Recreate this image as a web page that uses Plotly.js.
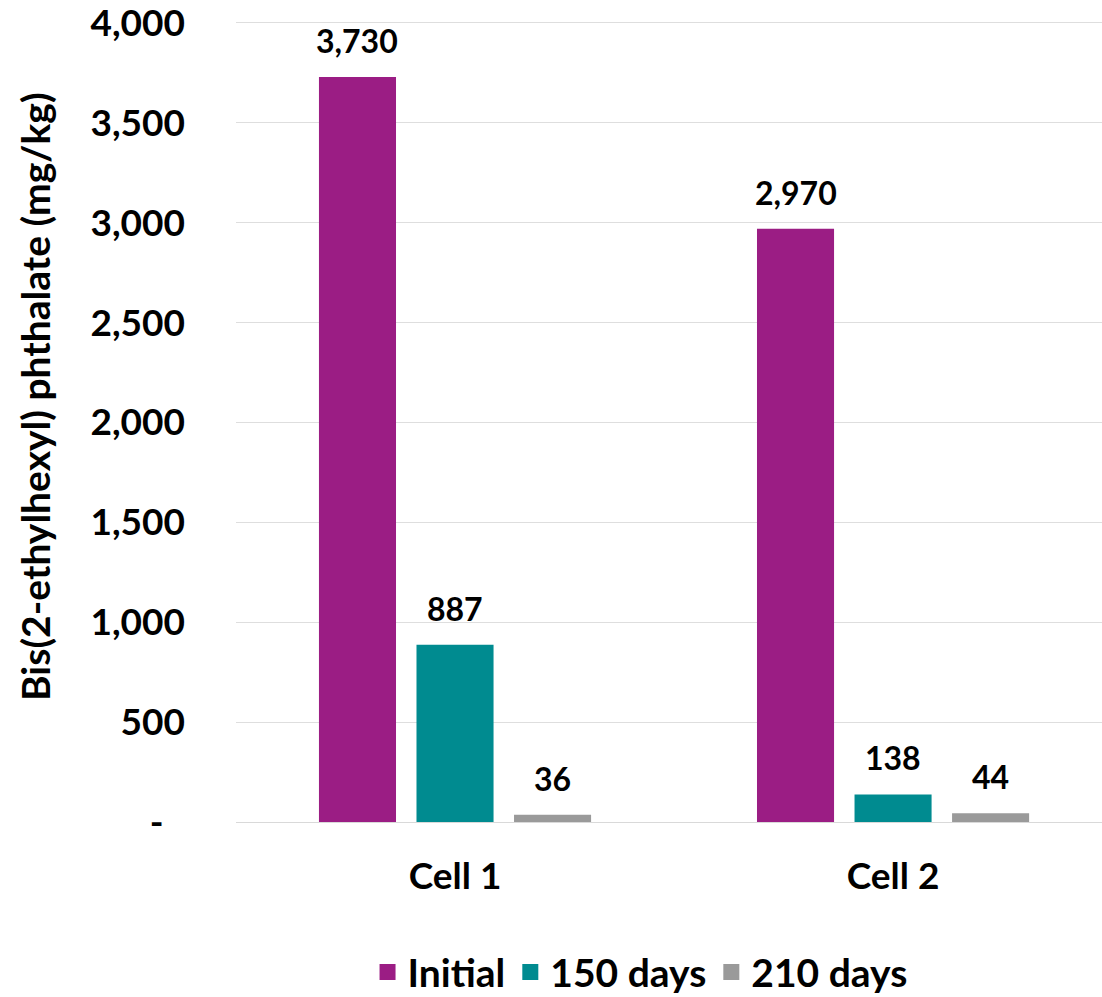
<!DOCTYPE html>
<html>
<head>
<meta charset="utf-8">
<script src="https://cdn.plot.ly/plotly-3.0.1.min.js"></script>
<style>
  html, body { margin: 0; padding: 0; background: #ffffff; overflow: hidden; }
  #chart { width: 1102px; height: 997px; }
</style>
</head>
<body>
<div id="chart"></div>
<script>
// Bis(2-ethylhexyl) phthalate concentration per cell over time
const cells = ["Cell 1", "Cell 2"];
const initial = [3730, 2970];
const days150 = [887, 138];
const days210 = [36, 44];

const seriesNames = ["Initial", "150 days", "210 days"];
const seriesColors = ["#9b1d84", "#008b90", "#9a9a9a"];

const yTickVals = [0, 500, 1000, 1500, 2000, 2500, 3000, 3500, 4000];
const yTickText = ["-\u2007", "500", "1,000", "1,500", "2,000", "2,500", "3,000", "3,500", "4,000"];
const yMax = 4000;

const yTitle = "Bis(2-ethylhexyl) phthalate (mg/kg)";

const fontFamily = "Lato, 'Open Sans', sans-serif";
const fmt = v => v.toLocaleString("en-US");

const seriesValues = [initial, days150, days210];
const BARGAP = 0.332;
const slot = (1 - BARGAP) / seriesValues.length;

// Plot area: zero at 822px, yMax at 23px; headroom above yMax keeps the top gridline inside
const zeroPx = 822, topTickPx = 23, headroom = 100;
const pxPerUnit = (zeroPx - topTickPx) / yMax;
const plotTop = Math.round(topTickPx - headroom * pxPerUnit);
const plotHeight = zeroPx - plotTop;

const traces = seriesValues.map((vals, i) => ({
  type: "bar",
  name: seriesNames[i],
  x: cells,
  y: vals,
  marker: { color: seriesColors[i] },
  showlegend: false,
  hoverinfo: "x+y+name"
}));

// Legend entries with larger square keys
seriesNames.forEach((name, i) => {
  traces.push({
    type: "scatter",
    mode: "markers",
    name: name,
    x: [null],
    y: [null],
    marker: { symbol: "square", size: 23, color: seriesColors[i] },
    showlegend: true,
    hoverinfo: "skip"
  });
});

// Value labels above each bar, placed at the bar's own x offset within its group
const annotations = [];
seriesValues.forEach((vals, i) => {
  vals.forEach((v, j) => {
    annotations.push({
      xref: "x",
      yref: "y",
      x: j + (i - (seriesValues.length - 1) / 2) * slot,
      y: v,
      text: fmt(v),
      showarrow: false,
      xanchor: "center",
      yanchor: "bottom",
      yshift: 15,
      font: { family: fontFamily, size: 32, color: "#000000", weight: 700 }
    });
  });
});

// Vertical axis title
annotations.push({
  xref: "paper",
  yref: "paper",
  x: 0,
  y: (zeroPx - 397) / plotHeight,
  xshift: -201,
  xanchor: "center",
  yanchor: "middle",
  textangle: -90,
  showarrow: false,
  text: yTitle,
  font: { family: fontFamily, size: 39, color: "#000000", weight: 700 }
});

const layout = {
  width: 1102,
  height: 997,
  margin: { l: 236, r: 0, t: plotTop, b: 997 - zeroPx },
  paper_bgcolor: "#ffffff",
  plot_bgcolor: "#ffffff",
  font: { family: fontFamily, color: "#000000", weight: 700 },
  barmode: "group",
  bargap: BARGAP,
  bargroupgap: 0.21,
  xaxis: {
    type: "category",
    range: [-0.5, 1.477],
    showgrid: false,
    zeroline: false,
    showline: false,
    ticks: "",
    automargin: false,
    ticklabelstandoff: 29,
    tickfont: { family: fontFamily, size: 37, color: "#000000", weight: 700 }
  },
  yaxis: {
    range: [0, yMax + headroom],
    tickvals: yTickVals,
    ticktext: yTickText,
    showgrid: true,
    gridcolor: "#dedede",
    gridwidth: 1,
    zeroline: true,
    zerolinecolor: "#d9d9d9",
    zerolinewidth: 1,
    showline: false,
    ticks: "",
    automargin: false,
    ticklabeloverflow: "allow",
    ticklabelstandoff: 50,
    tickfont: { family: fontFamily, size: 37, color: "#000000", weight: 700 }
  },
  legend: {
    orientation: "h",
    xref: "container",
    yref: "container",
    x: 0.5808,
    xanchor: "center",
    y: 0.025,
    yanchor: "middle",
    itemgap: 9,
    font: { family: fontFamily, size: 39, color: "#000000", weight: 700 },
    traceorder: "normal"
  },
  annotations: annotations,
  showlegend: true
};

Plotly.newPlot("chart", traces, layout, { displayModeBar: false, staticPlot: true });
</script>
</body>
</html>
